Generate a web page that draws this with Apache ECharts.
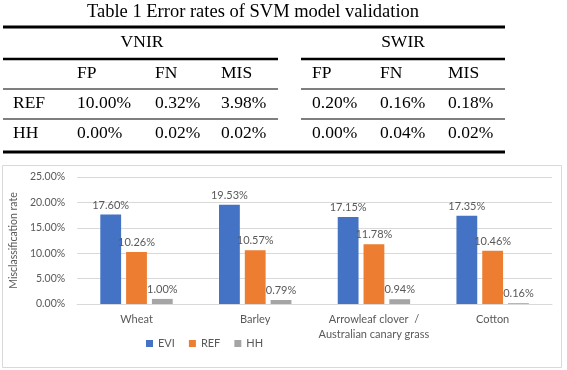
<!DOCTYPE html>
<html>
<head>
<meta charset="utf-8">
<script src="https://cdn.jsdelivr.net/npm/echarts@6/dist/echarts.min.js"></script>
<style>
html,body{margin:0;padding:0;background:#fff;}
#main{width:567px;height:370px;}
</style>
</head>
<body>
<div id="main"></div>
<script>
// ---- Table data ----
var tableTitle = 'Table 1 Error rates of SVM model validation';
var groupLabels = ['VNIR', 'SWIR'];
var columnLabels = ['FP', 'FN', 'MIS'];
var rowLabels = ['REF', 'HH'];
var vnirValues = [['10.00%', '0.32%', '3.98%'], ['0.00%', '0.02%', '0.02%']];
var swirValues = [['0.20%', '0.16%', '0.18%'], ['0.00%', '0.04%', '0.02%']];

// ---- Chart data ----
var categories = ['Wheat', 'Barley', 'Arrowleaf clover  /\nAustralian canary grass', 'Cotton'];
var seriesNames = ['EVI', 'REF', 'HH'];
var eviValues = [17.60, 19.53, 17.15, 17.35];
var refValues = [10.26, 10.57, 11.78, 10.46];
var hhValues = [1.00, 0.79, 0.94, 0.16];
var yTicks = [0, 5, 10, 15, 20, 25];

var serif = '"Liberation Serif", "Times New Roman", serif';
var sans = 'Lato, "Open Sans", sans-serif';
var tFont = 17.5;

var graphics = [];
function txt(x, y, s, align, size) {
  graphics.push({type: 'text', x: x, y: y, style: {
    text: s, fill: '#000', font: (size || tFont) + 'px ' + serif,
    textAlign: align || 'left', textVerticalAlign: 'middle'}});
}
function hline(x1, x2, y, w) {
  graphics.push({type: 'rect', shape: {x: x1, y: y - w / 2, width: x2 - x1, height: w},
    style: {fill: '#000'}});
}
// chart border
graphics.push({type: 'rect', shape: {x: 2.5, y: 165.5, width: 559, height: 202},
  style: {fill: 'none', stroke: '#d9d9d9', lineWidth: 1}, z: -1});
// table
txt(253, 12, tableTitle, 'center', 18.5);
hline(3, 505, 27, 3);
txt(142, 42, groupLabels[0], 'center');
txt(403, 42, groupLabels[1], 'center');
hline(3, 278, 59, 2.5);
hline(301, 505, 59, 2.5);
var vx = [77, 155, 221], sx = [312, 380, 448];
var rowY = [103, 133];
columnLabels.forEach(function (c, i) { txt(vx[i], 73, c); txt(sx[i], 73, c); });
hline(3, 278, 89, 1);
hline(301, 505, 89, 1);
hline(3, 278, 119, 1);
hline(301, 505, 119, 1);
rowLabels.forEach(function (r, j) {
  txt(13, rowY[j], r);
  vnirValues[j].forEach(function (v, i) { txt(vx[i], rowY[j], v); });
  swirValues[j].forEach(function (v, i) { txt(sx[i], rowY[j], v); });
});
hline(3, 505, 152, 3);

var colors = ['#4472C4', '#ED7D31', '#A5A5A5'];
var allValues = [eviValues, refValues, hhValues];
var chart = echarts.init(document.getElementById('main'), null, {renderer: 'canvas'});
chart.setOption({
  animation: false,
  color: colors,
  textStyle: {fontFamily: sans},
  graphic: graphics,
  grid: {left: 75, right: 15, top: 177, bottom: 66},
  legend: {
    data: seriesNames, left: 141, top: 333, itemWidth: 7, itemHeight: 7, itemGap: 14,
    icon: 'rect', textStyle: {color: '#595959', fontSize: 11, fontFamily: sans}
  },
  xAxis: {
    type: 'category', data: categories,
    axisLine: {lineStyle: {color: '#d9d9d9'}}, axisTick: {show: false},
    axisLabel: {color: '#595959', fontSize: 11, margin: 8, lineHeight: 15, interval: 0}
  },
  yAxis: {
    type: 'value', min: yTicks[0], max: yTicks[yTicks.length - 1], interval: 5,
    name: 'Misclassification rate', nameLocation: 'middle', nameGap: 53, nameRotate: 90,
    nameTextStyle: {color: '#595959', fontSize: 10.5},
    axisLabel: {color: '#595959', fontSize: 10.5, margin: 12, formatter: function (v) { return v.toFixed(2) + '%'; }},
    splitLine: {lineStyle: {color: '#d9d9d9'}},
    axisLine: {show: false}, axisTick: {show: false}
  },
  series: seriesNames.map(function (n, i) {
    return {
      name: n, type: 'bar', data: allValues[i], barGap: '24%', barCategoryGap: '39%',
      label: {show: true, position: 'top', distance: 4, color: '#595959', fontSize: 11,
        formatter: function (p) { return p.value.toFixed(2) + '%'; }}
    };
  })
});
</script>
</body>
</html>
